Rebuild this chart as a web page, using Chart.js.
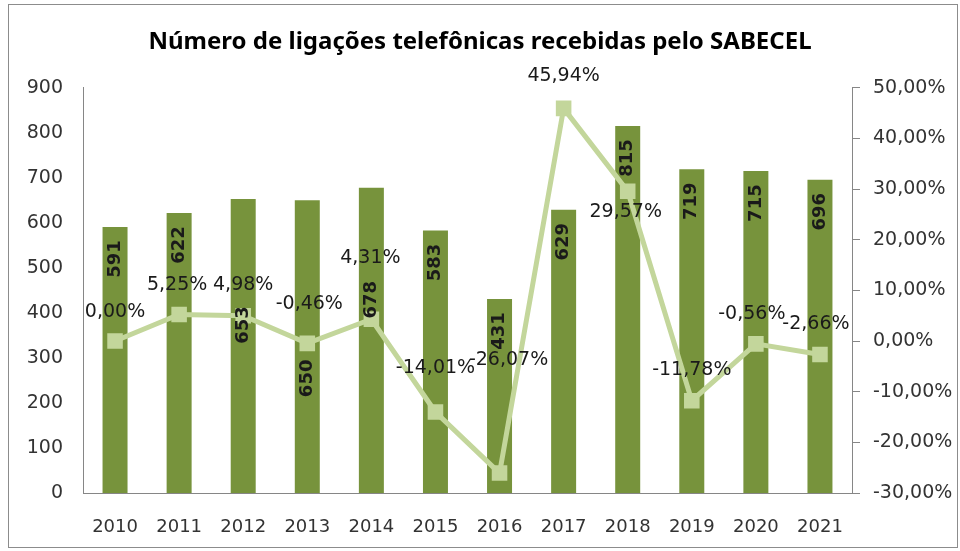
<!DOCTYPE html>
<html lang="pt-BR">
<head>
<meta charset="UTF-8">
<title>Ligações telefônicas - SABECEL</title>
<script src="https://cdn.jsdelivr.net/npm/chart.js@4"></script>
<style>
    html, body { margin: 0; padding: 0; background: #fff; }
    .frame {
        position: absolute; left: 8px; top: 4px; width: 950px; height: 544px;
        border: 1px solid #8c8c8c; box-sizing: border-box;
    }
    #chart { position: absolute; left: 0; top: 0; }
</style>
</head>
<body>
<div class="frame"></div>
<canvas id="chart" width="960" height="551"></canvas>
<script>
    // Dados
    const years = ['2010', '2011', '2012', '2013', '2014', '2015', '2016', '2017', '2018', '2019', '2020', '2021'];
    const calls = [591, 622, 653, 650, 678, 583, 431, 629, 815, 719, 715, 696];
    const growth = [0.00, 5.25, 4.98, -0.46, 4.31, -14.01, -26.07, 45.94, 29.57, -11.78, -0.56, -2.66];

    // Ajustes manuais dos rótulos (px), como no gráfico original
    const barLabelShift = [0, 0, 94, 146, 80, 0, 0, 0, 0, 0, 0, 0];
    const lineLabelShift = [
        [0, -29], [-2, -29], [0, -31], [2, -39], [-1, -61], [0, -44],
        [9, -113], [0, -32], [-2, 21], [0, -31], [-4, -30], [-4, -30]
    ];

    const pct = v => v.toFixed(2).replace('.', ',') + '%';
    const axisGray = '#868686';
    const textColor = '#333333';

    const labelPlugin = {
        id: 'valueLabels',
        afterDatasetsDraw(chart) {
            const ctx = chart.ctx;
            const bars = chart.getDatasetMeta(0).data;
            const pts = chart.getDatasetMeta(1).data;
            ctx.save();
            ctx.fillStyle = '#1a1a1a';
            ctx.textAlign = 'center';
            ctx.textBaseline = 'middle';
            ctx.font = 'bold 18px "DejaVu Sans"';
            bars.forEach((bar, i) => {
                ctx.save();
                ctx.translate(bar.x, bar.y + 32 + barLabelShift[i]);
                ctx.rotate(-Math.PI / 2);
                ctx.fillText(String(calls[i]), 0, 0);
                ctx.restore();
            });
            ctx.font = '19px "DejaVu Sans"';
            pts.forEach((pt, i) => {
                ctx.fillText(pct(growth[i]), pt.x + lineLabelShift[i][0], pt.y + lineLabelShift[i][1]);
            });
            ctx.restore();
        }
    };

    new Chart(document.getElementById('chart'), {
        type: 'bar',
        data: {
            labels: years,
            datasets: [{
                label: 'Ligações',
                data: calls,
                yAxisID: 'y',
                backgroundColor: '#77933C',
                categoryPercentage: 1,
                barPercentage: 0.39,
                order: 1
            }, {
                type: 'line',
                label: 'Variação',
                data: growth,
                yAxisID: 'y1',
                borderColor: '#C3D69B',
                backgroundColor: '#C3D69B',
                borderWidth: 5,
                pointStyle: 'rect',
                pointRadius: 11,
                pointBorderWidth: 0,
                tension: 0,
                order: 0
            }]
        },
        options: {
            responsive: false,
            animation: false,
            layout: { padding: 0 },
            plugins: {
                legend: { display: false },
                tooltip: { enabled: false },
                title: {
                    display: true,
                    text: 'Número de ligações telefônicas recebidas pelo SABECEL',
                    color: '#000',
                    font: { family: 'Noto Sans', size: 24, weight: 'bold' },
                    padding: { top: 28, bottom: 31 }
                }
            },
            scales: {
                x: {
                    grid: { display: false, drawTicks: false },
                    border: { color: axisGray, width: 1 },
                    ticks: { color: textColor, font: { family: 'DejaVu Sans', size: 18 }, padding: 24 },
                    afterFit(s) { s.height = 58; }
                },
                y: {
                    position: 'left',
                    min: 0,
                    max: 900,
                    grid: { display: false, drawTicks: false },
                    border: { color: axisGray, width: 1 },
                    ticks: { stepSize: 100, color: textColor, font: { family: 'DejaVu Sans', size: 19 }, padding: 20 },
                    afterFit(s) { s.width = 83; }
                },
                y1: {
                    position: 'right',
                    min: -30,
                    max: 50,
                    grid: { drawOnChartArea: false, drawTicks: true, tickLength: 8, color: axisGray },
                    border: { color: axisGray, width: 1 },
                    ticks: {
                        stepSize: 10, color: textColor, padding: 13,
                        font: { family: 'DejaVu Sans', size: 19 },
                        callback: v => pct(v)
                    },
                    afterFit(s) { s.width = 108; }
                }
            }
        },
        plugins: [labelPlugin]
    });
</script>
</body>
</html>
